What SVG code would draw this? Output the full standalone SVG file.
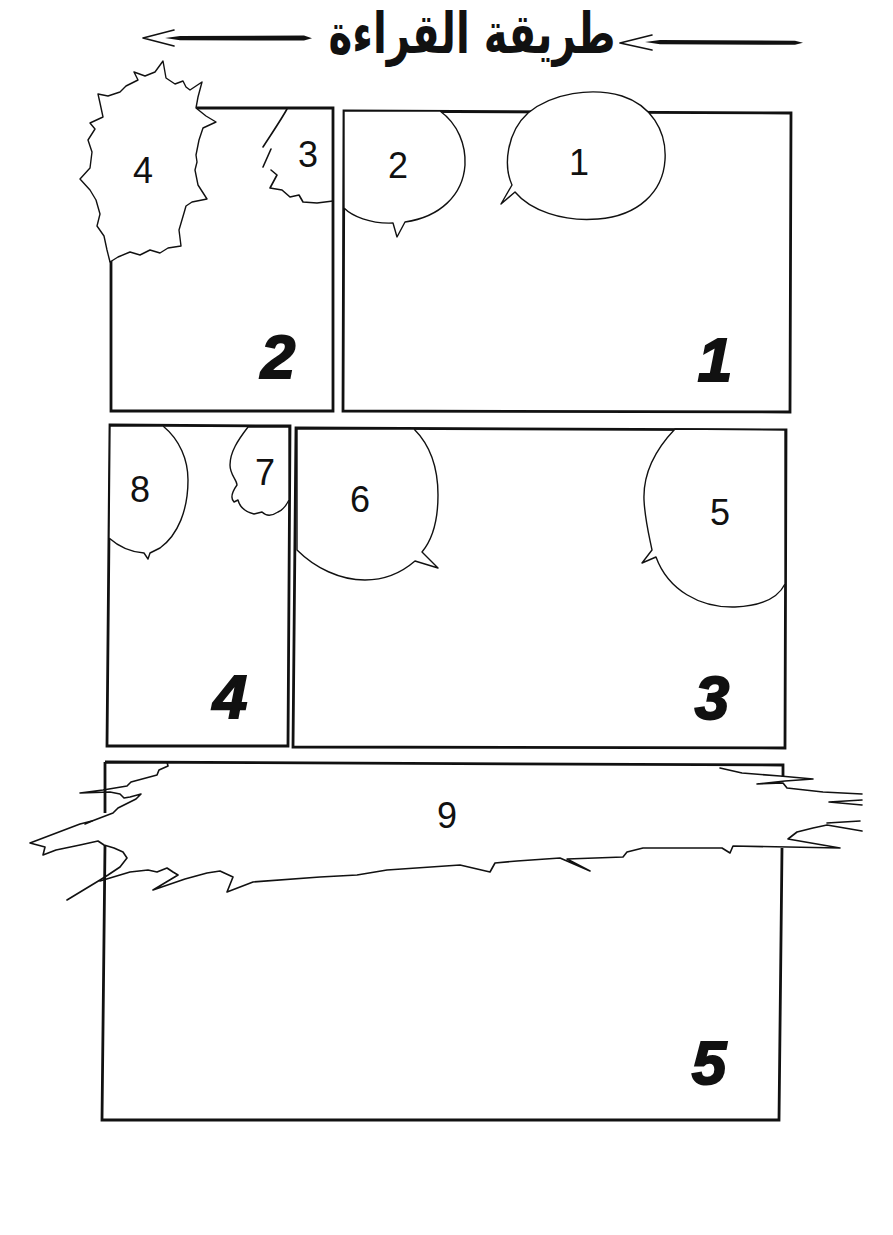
<svg xmlns="http://www.w3.org/2000/svg" width="893" height="1235" viewBox="0 0 893 1235">
<style>
.panel{fill:none;stroke:#111;stroke-width:2.8;stroke-linejoin:miter}
.bubble{fill:#fff;stroke:#111;stroke-width:1.4;stroke-linejoin:round}
.ln{fill:none;stroke:#111;stroke-width:1.6;stroke-linejoin:round;stroke-linecap:round}
.pnum{font-family:"Liberation Sans",Arial,sans-serif;font-weight:bold;font-style:italic;font-size:62px;text-anchor:middle;fill:#111;stroke:#111;stroke-width:2}
.bnum{font-family:"Liberation Sans",Arial,sans-serif;font-size:36px;text-anchor:middle;fill:#111}
.title{font-family:"DejaVu Sans",sans-serif;font-weight:bold;font-size:56px;text-anchor:middle;fill:#111}
</style>
<rect width="893" height="1235" fill="#fff"/>

<g id="title">
<text class="title" x="0" y="0" transform="translate(472,53) scale(0.72,1)">طريقة القراءة</text>
</g>

<g id="connectors">
<polyline class="ln" points="174,30 143,38 174,46"/>
<polygon fill="#111" points="165,38 180,36 304,35.5 312,38.3 304,40.6 180,40.3"/>
<polyline class="ln" points="652,35 620,43 652,50"/>
<polygon fill="#111" points="645,42 660,40 795,40.7 803,42.8 795,44.8 660,44.3"/>
</g>

<g id="panel-1">
<polygon class="panel" points="344,111 791,113 790,412 343,411"/>
<text class="pnum" x="715" y="381">1</text>
</g>
<g id="panel-2">
<polygon class="panel" points="111,108 333,108 333,411 111,411"/>
<text class="pnum" x="278" y="378">2</text>
</g>
<g id="panel-3">
<polygon class="panel" points="296,428 786,430 785,748 293,747"/>
<text class="pnum" x="712" y="719">3</text>
</g>
<g id="panel-4">
<polygon class="panel" points="110,425 290,426 288,746 107,746"/>
<text class="pnum" x="230" y="718">4</text>
</g>
<g id="panel-5">
<path class="panel" d="M105 762 L783 765 L783 777 M782 848 L779 1120 L102 1120 L105 845 M105 813 L105 762"/>
<text class="pnum" x="709" y="1084">5</text>
</g>

<g id="bubble-1">
<path class="bubble" d="M515 192 L501 204 L512 185 C503 165 507 132 528 113 C552 93 592 87 622 96 C650 105 667 130 665 160 C663 192 638 216 598 219 C562 222 530 210 515 192 Z"/>
<text class="bnum" x="579" y="175">1</text>
</g>
<g id="bubble-2">
<path class="bubble" d="M440 111 C458 124 466 145 465 165 C463 195 440 217 405 222 L397 237 L393 223 C370 224 352 216 344 208 L344 111 Z"/>
<text class="bnum" x="398" y="178">2</text>
</g>
<g id="bubble-3">
<path class="ln" stroke-width="1.3" d="M287 109 C281 120 270 136 263 147 M271 149 L263 167 M271 170 L277 175 L270 188 L282 190 L290 197 L299 195 L303 202 L317 203 L333 201"/>
<text class="bnum" x="308" y="167">3</text>
</g>
<g id="bubble-4">
<path class="bubble" d="M163 61 L166 78 L172 82 L175 84 L183 81 L186 87 L190 90 L202 82 L198 97 L196 108 L206 116 L216 122 L203 128 L201 134 L199 140 L196 155 L197 162 L195 170 L198 185 L207 199 L192 202 L186 206 L184 213 L179 230 L181 246 L168 248 L160 253 L150 250 L140 255 L130 252 L118 257 L110 262 L107 250 L104 236 L97 226 L100 214 L96 200 L90 190 L80 179 L90 168 L92 152 L88 140 L95 129 L90 123 L103 117 L100 103 L98 94 L108 96 L120 92 L126 86 L138 80 L134 72 L145 76 L155 72 Z"/>
<text class="bnum" x="143" y="183">4</text>
</g>
<g id="bubble-5">
<path class="bubble" d="M675 429 C655 450 643 475 644 500 C645 520 649 535 652 550 L642 563 L656 557 C668 590 700 608 735 607 C760 606 778 598 785 584 L785 430 Z"/>
<text class="bnum" x="720" y="525">5</text>
</g>
<g id="bubble-6">
<path class="bubble" d="M414 429 C430 445 438 468 438 495 C438 520 432 540 422 552 L438 568 L415 561 C400 574 385 580 365 580 C340 580 315 568 297 550 L297 429 Z"/>
<text class="bnum" x="360" y="512">6</text>
</g>
<g id="bubble-7">
<path class="bubble" d="M248 427 C238 440 230 452 230 465 C230 475 237 480 237 485 C232 492 230 498 234 502 L238 500 C240 508 246 512 254 514 L262 512 C266 516 272 516 278 512 C283 510 286 506 289 500 L289 427 Z"/>
<text class="bnum" x="265" y="485">7</text>
</g>
<g id="bubble-8">
<path class="bubble" d="M163 426 C180 440 188 460 188 480 C188 510 178 535 160 548 L150 553 L148 559 L144 553 C130 552 118 546 109 538 L110 426 Z"/>
<text class="bnum" x="140" y="502">8</text>
</g>
<g id="bubble-9">
<path class="ln" d="M167 762 L168 766 L159 770 L157 775 L131 782 L127 786 L103 790 L80 793 L110 792 L120 794 L124 798 L130 797 L141 794 L136 799 L118 808 L113 813 L92 821 L80 824 L30 843 L45 847 L43 855 L56 850 L80 845 L98 841 L104 845 L114 848 L123 852 L127 858 L120 867 L108 875 L100 880 L67 900"/>
<path class="ln" d="M100 881 L130 872 L148 870 L157 872 L167 868 L173 872 L178 875 L153 890 L185 879 L207 873 L220 871 L233 877 L227 892 L253 882 L320 877 L357 875 L387 870 L460 865 L490 872 L495 863 L517 861 L560 858 L590 871 L567 859 L623 857 L627 852 L643 848 L683 848 L722 848 L730 853 L733 846 L840 848 L788 839 L797 832 L813 828 L827 825 L862 831"/>
<path class="ln" stroke-width="2.6" d="M827 823 L860 821 M862 805 L829 802 L862 800"/>
<path class="ln" d="M862 794 L823 792 L787 788 L783 783 L757 784 L785 781 L813 779 L780 776 L742 773 L720 768"/>
<path class="ln" stroke-width="2.6" d="M85 824 L92 821"/>
<text class="bnum" x="447" y="828">9</text>
</g>
</svg>
